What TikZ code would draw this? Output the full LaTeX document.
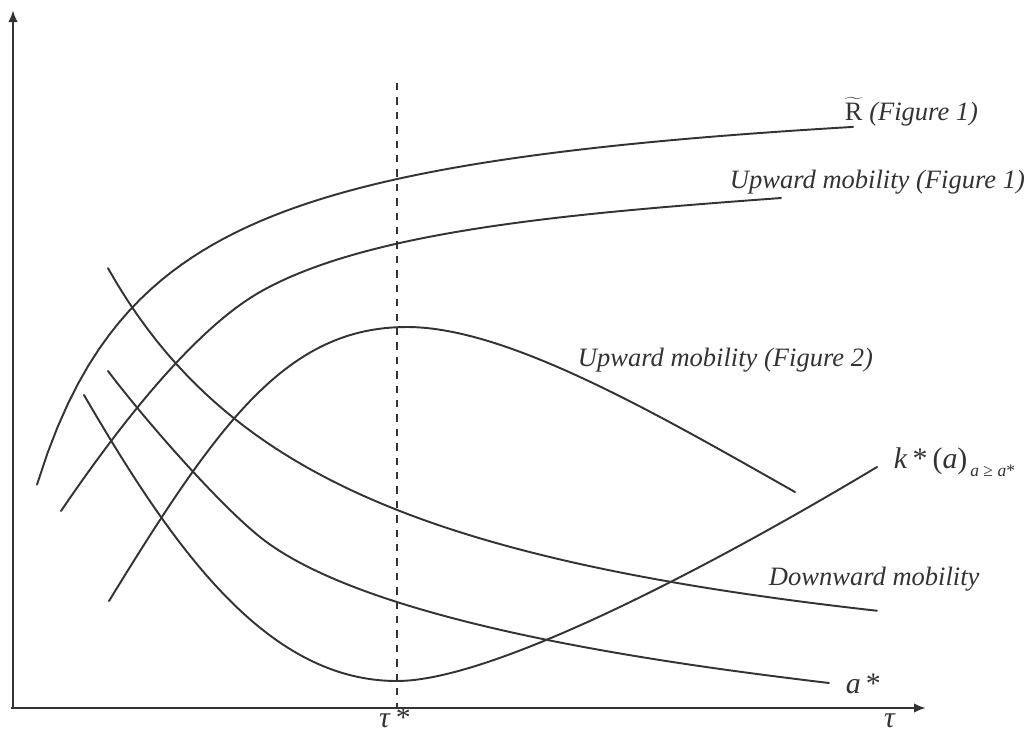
\documentclass[tikz,border=0pt]{standalone}
\usepackage{fontspec}
\setmainfont{Liberation Serif}
\usetikzlibrary{arrows.meta}
\definecolor{ink}{RGB}{51,51,51}
\begin{document}
\begin{tikzpicture}[x=0.02cm,y=-0.02cm,line width=1.1pt,color=ink,
	curve/.style={ink,line cap=round},
	lbl/.style={inner sep=0pt,anchor=base west,font=\fontsize{15.1}{18}\selectfont\itshape},
	sym/.style={inner sep=0pt,font=\fontsize{17}{20}\selectfont}]
				\useasboundingbox (0,0) rectangle (1036,731);
				% Trục toạ độ
				\draw[-{Latex[length=0.24cm,width=0.19cm]},line width=1.3pt] (13,708) -- (13,10);
				\draw[-{Latex[length=0.24cm,width=0.19cm]},line width=1.3pt] (11,708) -- (926,708);
				% Đường thẳng đứng tại tau*
				\draw[dashed,dash pattern=on 4.2pt off 4pt,line width=0.9pt] (397,83) -- (397,708);
				
				% R ngã (Figure 1)
				\draw[curve] plot[domain=37:853,samples=80] (\x,{71.2+525/(0.01*\x+0.9)});
				% Upward mobility (Figure 1)
				\draw[curve] (61,511) .. controls (111.6,436.6) and (190,331.9) .. (260,292)
					.. controls (370,229.3) and (581,212.8) .. (781,198);
				% Upward mobility (Figure 2)
				\draw[curve] (109,601) .. controls (219,421.7) and (287,327) .. (407,327)
					.. controls (507,327) and (655,412.8) .. (795,492);
				% Downward mobility
				\draw[curve] plot[domain=108:877,samples=80] (\x,{725.7-1180/(0.01*\x+1.5)});
				% a*
				\draw[curve] (108,371) .. controls (148,423.8) and (220,505) .. (260,537)
					.. controls (370,625) and (679,665) .. (829,683);
				% k*(a)
				\draw[curve] (84,395) .. controls (174,549.8) and (267,681) .. (397,681)
					.. controls (497,681) and (727,557) .. (877,467);
				
				% Nhãn
				\node[lbl] (lblR) at (844,120) {\upshape$\widetilde{\mbox{R}}$ \itshape(Figure 1)};
				\node[lbl] (lblUpA) at (729,188) {Upward mobility (Figure 1)};
				\node[lbl] (lblUpB) at (577,366) {Upward mobility (Figure 2)};
				\node[lbl] (lblDown) at (768,585) {Downward mobility};
				\node[sym,anchor=base west] (lblK) at (893,468) {\textit{k}\,*\,(\textit{a})\raisebox{-0.6ex}{\fontsize{10}{12}\selectfont\,\textit{a} ≥ \textit{a}*}};
				\node[sym,anchor=base west] (lblA) at (845,693) {\textit{a}\,*};
				\node[sym,anchor=base] (lblTauS) at (395,727) {\textit{τ}\,*};
				\node[sym,anchor=base] (lblTau) at (890,727) {\textit{τ}};
			\end{tikzpicture}
\end{document}
